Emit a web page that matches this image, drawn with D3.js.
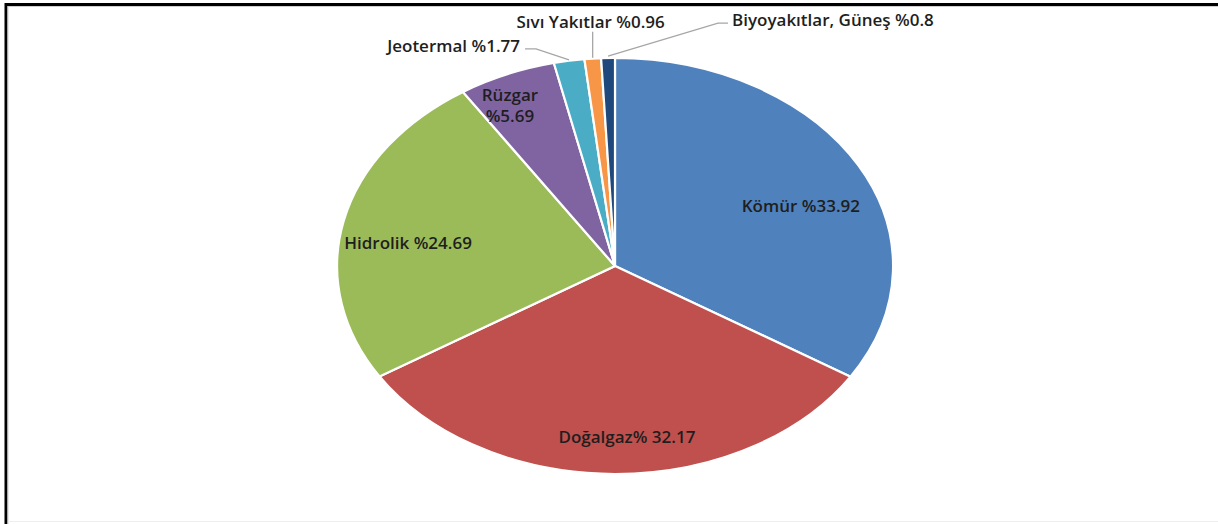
<!DOCTYPE html>
<html>
<head>
<meta charset="utf-8">
<script src="https://cdn.jsdelivr.net/npm/d3@7"></script>
<style>
  html, body { margin: 0; padding: 0; background: #fff; }
  svg { display: block; }
  text { font-family: "Open Sans", "Noto Sans", sans-serif; font-weight: 600; fill: #1e1e1e; }
</style>
</head>
<body>
<svg id="chart" width="1218" height="524"></svg>
<script>
// Energy sources share (%)
const categories = ["Kömür", "Doğalgaz", "Hidrolik", "Rüzgar", "Jeotermal", "Sıvı Yakıtlar", "Biyoyakıtlar, Güneş"];
const values = [33.92, 32.17, 24.69, 5.69, 1.77, 0.96, 0.8];
const labels = ["Kömür %33.92", "Doğalgaz% 32.17", "Hidrolik %24.69", ["Rüzgar", "%5.69"], "Jeotermal %1.77", "Sıvı Yakıtlar %0.96", "Biyoyakıtlar, Güneş %0.8"];
const colors = ["#4F81BD", "#C0504D", "#9BBB59", "#8064A2", "#4BACC6", "#F79646", "#1F497D"];

const W = 1218, H = 524;
const cx = 615, cy = 266, rx = 278, ry = 208;
const FS = 17;

const svg = d3.select("#chart");

// frame: top and left rules with a soft inner shade
svg.append("rect").attr("x", 0).attr("y", 0).attr("width", W).attr("height", H).attr("fill", "#fff");
svg.append("line").attr("x1", 5).attr("x2", W).attr("y1", 4.5).attr("y2", 4.5).attr("stroke", "#000").attr("stroke-width", 3);
svg.append("line").attr("x1", 6).attr("x2", 6).attr("y1", 3).attr("y2", H).attr("stroke", "#000").attr("stroke-width", 3);
svg.append("line").attr("x1", 8).attr("x2", W).attr("y1", 6.5).attr("y2", 6.5).attr("stroke", "#cfcfcf").attr("stroke-width", 1);
svg.append("line").attr("x1", 8).attr("x2", 8).attr("y1", 6).attr("y2", H).attr("stroke", "#cfcfcf").attr("stroke-width", 1);
svg.append("line").attr("x1", 8).attr("x2", W).attr("y1", 521.5).attr("y2", 521.5).attr("stroke", "#eeeeee").attr("stroke-width", 1);

const pie = d3.pie().sort(null).value(d => d)(values);
const arc = d3.arc().innerRadius(0).outerRadius(1);

// pie drawn on a unit circle, stretched into an ellipse
const g = svg.append("g").attr("transform", `translate(${cx},${cy}) scale(${rx},${ry})`);
g.selectAll("path").data(pie).join("path")
  .attr("d", arc)
  .attr("fill", (d, i) => colors[i])
  .attr("stroke", "#fff")
  .attr("stroke-width", 2.2)
  .attr("vector-effect", "non-scaling-stroke");

// map a point at angle a (radians from 12 o'clock, clockwise) and radius fraction f to page coords
function pt(a, f) {
  return [cx + rx * f * Math.sin(a), cy - ry * f * Math.cos(a)];
}
const mid = d => (d.startAngle + d.endAngle) / 2;

// inside labels: radius fraction and pixel nudges
const inside = [
  { i: 0, f: 0.76, dx: 1, dy: 17 },
  { i: 1, f: 0.82, dx: 12, dy: 0 },
  { i: 2, f: 0.74, dx: -6, dy: 10 },
  { i: 3, f: 0.84, dx: -14, dy: 0 }
];
inside.forEach(o => {
  const [x, y] = pt(mid(pie[o.i]), o.f);
  const lab = labels[o.i];
  const t = svg.append("text").attr("text-anchor", "middle").attr("font-size", FS);
  if (Array.isArray(lab)) {
    lab.forEach((s, k) => {
      t.append("tspan").attr("x", x + o.dx).attr("y", y + o.dy + (k - 0.5) * 21 + 6).text(s);
    });
  } else {
    t.attr("x", x + o.dx).attr("y", y + o.dy + 6).text(lab);
  }
});

// outside labels with leader lines
const lineColor = "#a6a6a6";
function leader(points) {
  svg.append("path")
    .attr("d", d3.line()(points))
    .attr("fill", "none")
    .attr("stroke", lineColor)
    .attr("stroke-width", 1.3);
}

// Jeotermal
{
  const [x, y] = pt(mid(pie[4]), 1.0);
  leader([[x, y - 1], [x - 33, y - 12], [x - 44, y - 12]]);
  svg.append("text").attr("x", x - 49).attr("y", y - 9).attr("text-anchor", "end").attr("font-size", FS).text(labels[4]);
}
// Sıvı Yakıtlar
{
  const [x, y] = pt(mid(pie[5]), 1.0);
  leader([[x, y - 1], [x, y - 27]]);
  svg.append("text").attr("x", x - 2).attr("y", y - 31).attr("text-anchor", "middle").attr("font-size", FS).text(labels[5]);
}
// Biyoyakıtlar, Güneş
{
  const [x, y] = pt(mid(pie[6]), 1.0);
  leader([[x, y - 2], [x + 110, y - 35], [x + 120, y - 35]]);
  svg.append("text").attr("x", x + 124).attr("y", y - 32).attr("text-anchor", "start").attr("font-size", FS).text(labels[6]);
}
</script>
</body>
</html>
